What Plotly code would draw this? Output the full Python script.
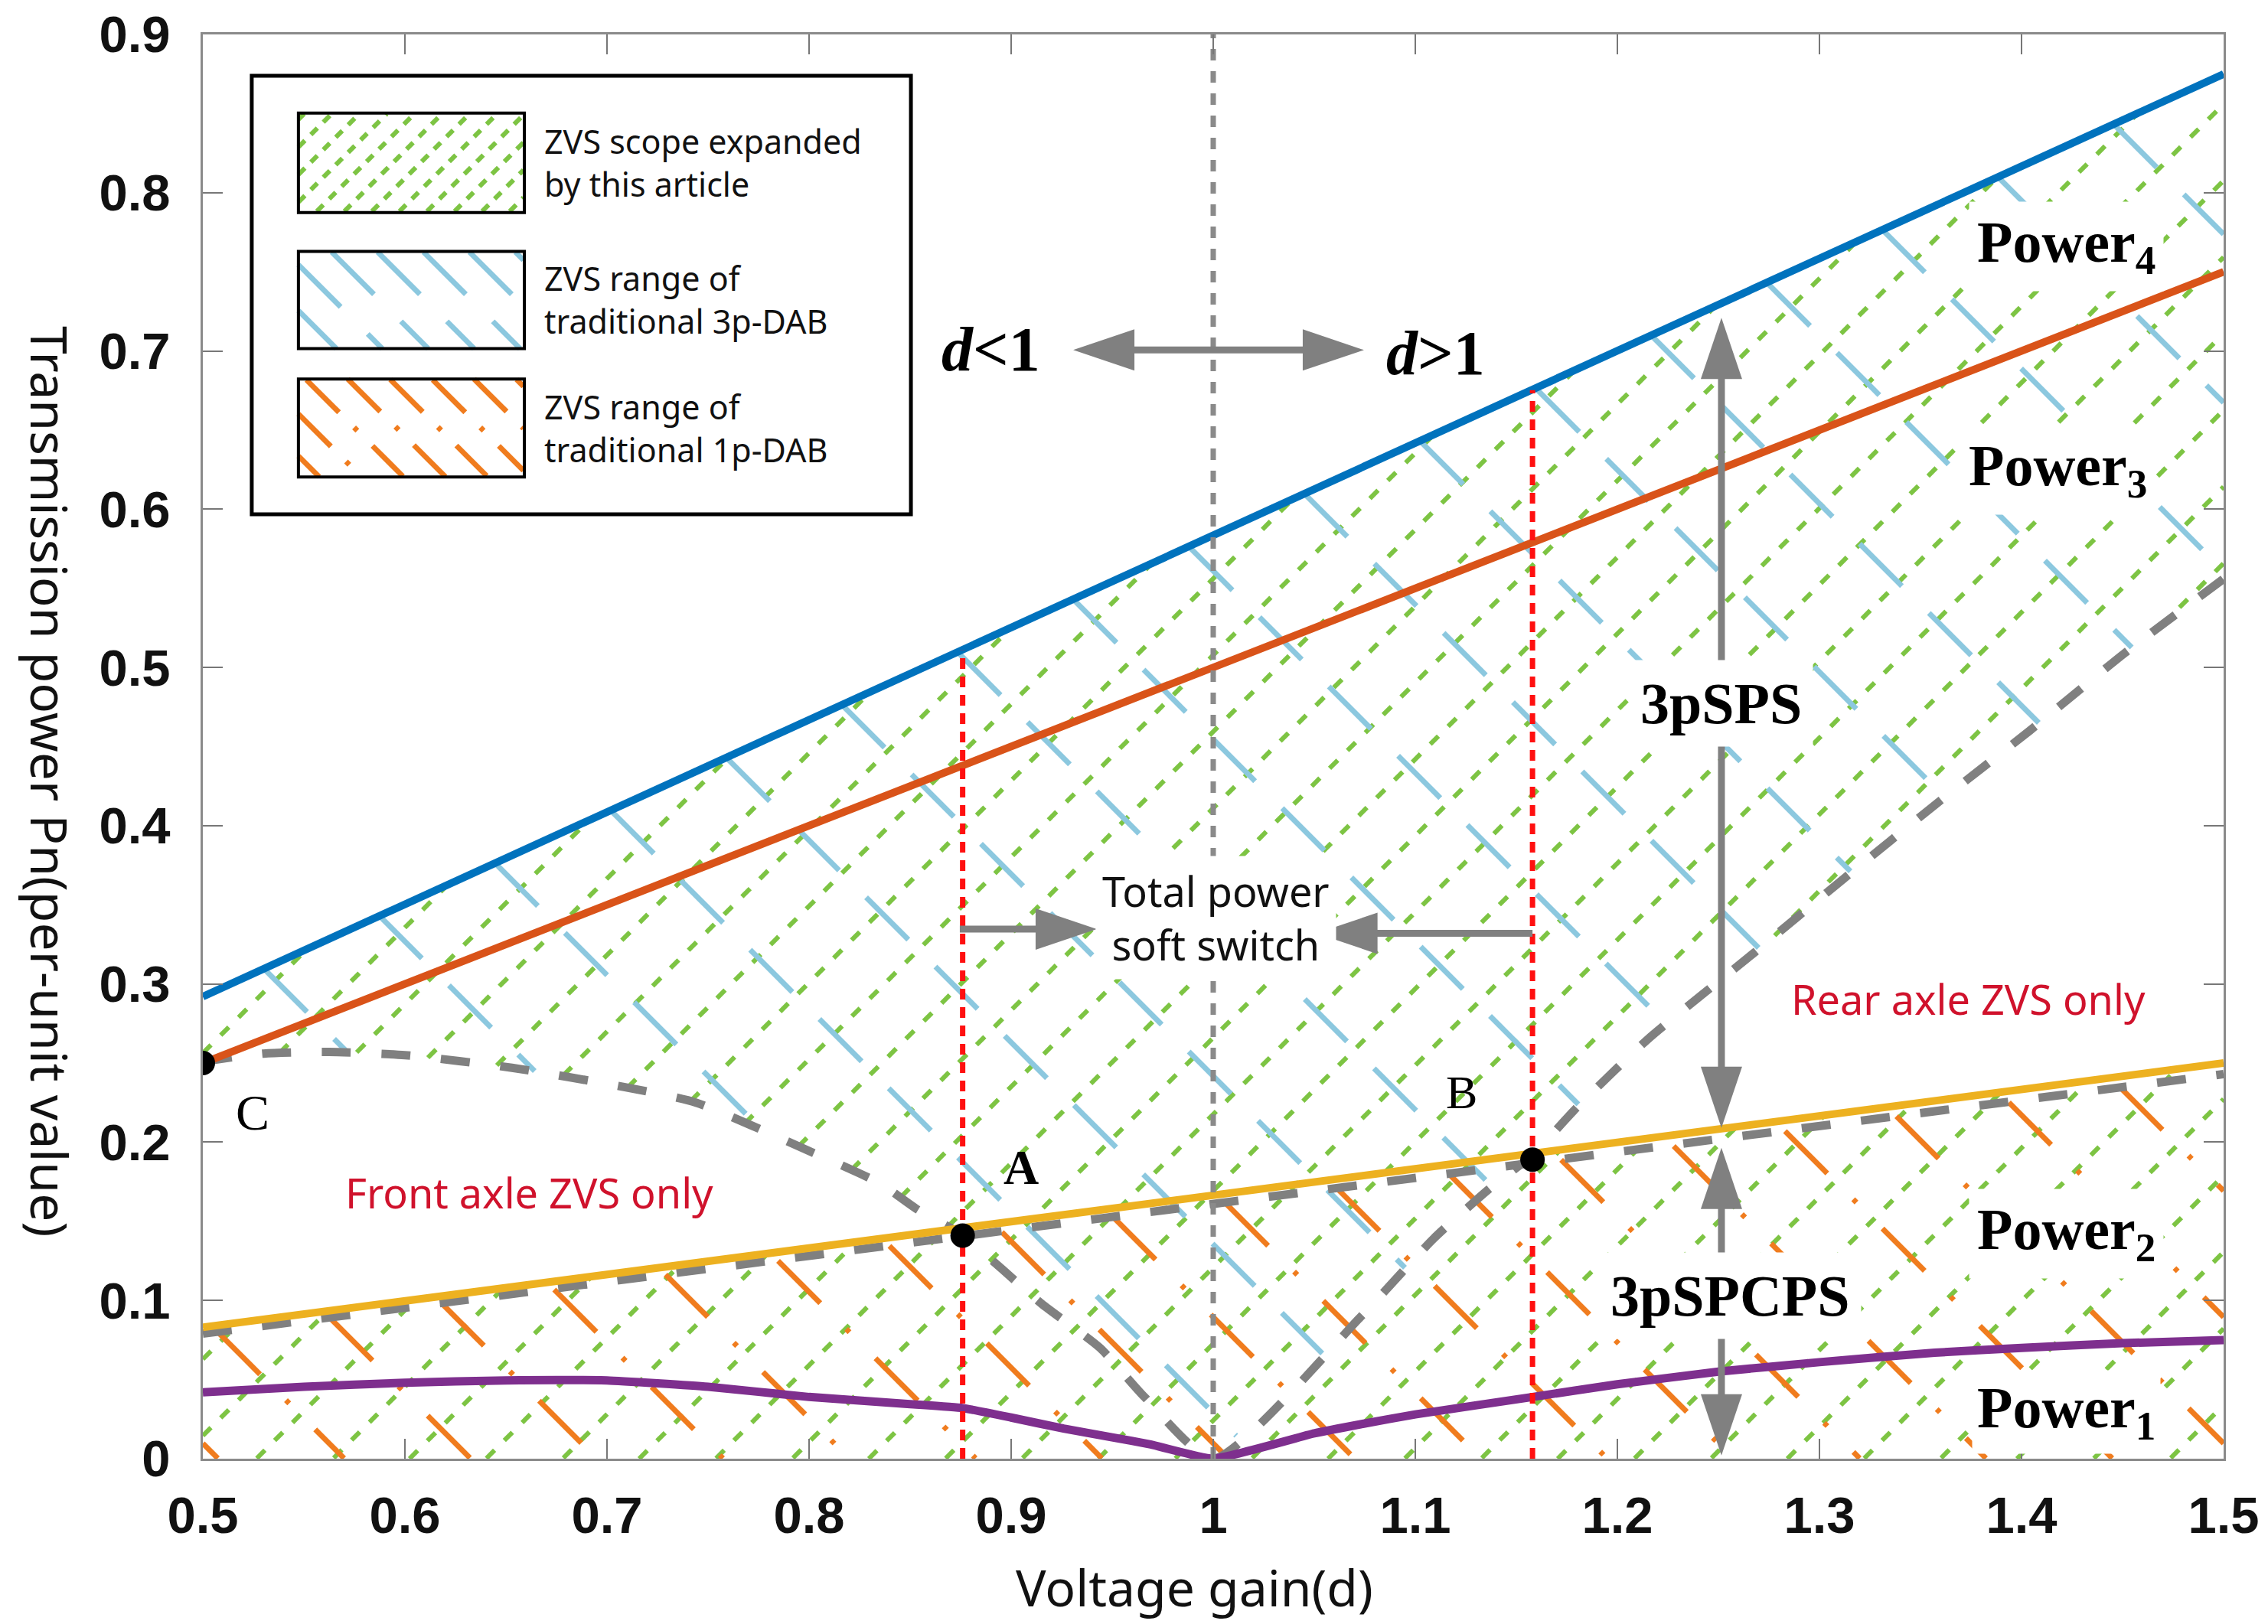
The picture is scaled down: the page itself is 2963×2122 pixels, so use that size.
import numpy as np
import plotly.graph_objects as go

# ---------------- data ----------------
d_line = [0.5, 1.0, 1.5]
power4 = [0.292, 0.583, 0.875]
power3 = [0.25, 0.5, 0.75]
power2 = [0.083, 0.167, 0.25]
power2_limit = [0.079, 0.161, 0.243]          # grey dashed boundary just under Power2

d_power1 = [0.5, 0.55, 0.6, 0.65, 0.7, 0.75, 0.8, 0.85, 0.876, 0.9, 0.926, 0.95, 0.969, 1.0,
            1.05, 1.074, 1.1, 1.158, 1.2, 1.25, 1.3, 1.357, 1.4, 1.45, 1.5]
power1 = [0.042, 0.0455, 0.048, 0.0495, 0.0495, 0.0455, 0.039, 0.0345, 0.032, 0.026, 0.019, 0.0135, 0.009, 0.0,
          0.016, 0.022, 0.028, 0.039, 0.047, 0.055, 0.061, 0.067, 0.070, 0.073, 0.075]

d_zvs = [0.5, 0.53, 0.5625, 0.6, 0.653, 0.708, 0.744, 0.799, 0.835, 0.853, 0.876, 0.915, 0.944, 0.966, 1.0,
         1.0736, 1.109, 1.137, 1.158, 1.18, 1.215, 1.267, 1.312, 1.358, 1.404, 1.451, 1.5]
zvs_limit = [0.251, 0.256, 0.257, 0.255, 0.247, 0.235, 0.225, 0.195, 0.174, 0.158, 0.141, 0.098, 0.07, 0.039, 0.0,
             0.0905, 0.139, 0.171, 0.192, 0.222, 0.265, 0.319, 0.3665, 0.414, 0.46, 0.509, 0.556]

pt_names = ["C", "A", "B"]
pt_d = [0.5, 0.876, 1.158]
pt_p = [0.25, 0.141, 0.189]

boundary_d = [0.876, 1.158]        # red dashed boundaries (A and B)
unity_d = 1.0                       # grey dotted line d = 1

x_ticks = [0.5, 0.6, 0.7, 0.8, 0.9, 1.0, 1.1, 1.2, 1.3, 1.4, 1.5]
x_tick_text = ["0.5", "0.6", "0.7", "0.8", "0.9", "1", "1.1", "1.2", "1.3", "1.4", "1.5"]
y_ticks = [0, 0.1, 0.2, 0.3, 0.4, 0.5, 0.6, 0.7, 0.8, 0.9]
y_tick_text = ["0", "0.1", "0.2", "0.3", "0.4", "0.5", "0.6", "0.7", "0.8", "0.9"]

legend_texts = ["ZVS scope expanded<br>by this article",
                "ZVS range of<br>traditional 3p-DAB",
                "ZVS range of<br>traditional 1p-DAB"]

# ---------------- geometry of the page ----------------
# the page body has an 8px margin, so the figure is shifted by 8px; compensate
W, H = 2955, 2114
ML, MR, MT, MB = 257, 58, 37, 216
PW, PH = W - ML - MR, H - MT - MB
X0, X1, Y0, Y1 = 0.5, 1.5, 0.0, 0.9

GREEN = "#7DC443"
LBLUE = "#8CC8DF"
ORANGE = "#F07C1E"
GREY = "#808080"
SERIF = "Liberation Serif"
SANS = "Noto Sans"


def to_uv(x, y):
    return (np.asarray(x) - X0) / (X1 - X0) * PW, (np.asarray(y) - Y0) / (Y1 - Y0) * PH


def to_xy(u, v):
    return X0 + np.asarray(u) / PW * (X1 - X0), Y0 + np.asarray(v) / PH * (Y1 - Y0)


def px_of(x, y):
    return ML + (x - X0) / (X1 - X0) * PW, MT + (Y1 - y) / (Y1 - Y0) * PH


def data_of(px, py):
    return X0 + (px - ML) / PW * (X1 - X0), Y1 - (py - MT) / PH * (Y1 - Y0)


def hatch(inside, box, direction, spacing, phase=0.0, step=1.5):
    """Clip a family of 45-degree lines (pixel space) to a region."""
    xmin, xmax, ymin, ymax = box
    u0, v0 = to_uv(xmin, ymin)
    u1, v1 = to_uv(xmax, ymax)
    s = 1.0 if direction == "/" else -1.0
    if s > 0:
        cmin, cmax = v0 - u1, v1 - u0
    else:
        cmin, cmax = v0 + u0, v1 + u1
    start = cmin - ((cmin - phase) % spacing)
    xs, ys = [], []
    uu = np.arange(u0, u1 + step, step)
    for c in np.arange(start, cmax + spacing, spacing):
        vv = s * uu + c
        m = (vv >= v0) & (vv <= v1)
        if not m.any():
            continue
        u, v = uu[m], vv[m]
        x, y = to_xy(u, v)
        ins = inside(x, y)
        pad = np.concatenate([[False], ins, [False]]).astype(int)
        dd = np.diff(pad)
        st = np.where(dd == 1)[0]
        en = np.where(dd == -1)[0] - 1
        for a, b in zip(st, en):
            if b - a < 3:
                continue
            xs += [float(x[a]), float(x[b]), None]
            ys += [float(y[a]), float(y[b]), None]
    return xs, ys


def in_blue(x, y):
    return (y >= np.interp(x, d_zvs, zvs_limit)) & (y <= np.interp(x, d_line, power4))


def in_orange(x, y):
    return (y >= 0) & (y <= np.interp(x, d_line, power2_limit))


def in_green(x, y):
    return in_blue(x, y) | ((y >= 0) & (y <= np.interp(x, d_line, power2)))


fig = go.Figure()
plot_box = (X0, X1, Y0, Y1)

hatch_specs = [
    (in_green, "/", 100, GREEN, 6, "15px,18px", 30),
    (in_blue, "\\", 220, LBLUE, 7, "78px,50px", 60),
    (in_orange, "\\", 165, ORANGE, 7, "78px,48px,6px,48px", 20),
]
for fn, direc, sp, col, wd, dash, ph in hatch_specs:
    hx, hy = hatch(fn, plot_box, direc, sp, ph)
    fig.add_trace(go.Scatter(x=hx, y=hy, mode="lines", line=dict(color=col, width=wd, dash=dash),
                             hoverinfo="skip", showlegend=False))

# ---------------- legend (drawn inside the plot) ----------------
LEG_BOX = (0.5242, 0.8504, 0.5968, 0.8739)
SWATCH_X = (0.5473, 0.6591)
SWATCH_Y = [(0.7875, 0.8503), (0.7015, 0.7629), (0.6204, 0.6822)]
LEG_TEXT_X = 0.668

swatch_hatch = [
    ("/", 36, GREEN, 6, "12px,11px"),
    ("\\", 60, LBLUE, 7, "78px,50px"),
    ("\\", 55, ORANGE, 7, "60px,28px,6px,28px"),
]
shapes = [dict(type="rect", xref="x", yref="y", x0=LEG_BOX[0], x1=LEG_BOX[1], y0=LEG_BOX[2], y1=LEG_BOX[3],
               line=dict(color="black", width=5), fillcolor="white", layer="below")]
annotations = []
for (ya, yb), (direc, sp, col, wd, dash), txt in zip(SWATCH_Y, swatch_hatch, legend_texts):
    xa, xb = SWATCH_X

    def in_rect(x, y, xa=xa, xb=xb, ya=ya, yb=yb):
        return (x >= xa) & (x <= xb) & (y >= ya) & (y <= yb)

    hx, hy = hatch(in_rect, (xa, xb, ya, yb), direc, sp, 5)
    fig.add_trace(go.Scatter(x=hx, y=hy, mode="lines", line=dict(color=col, width=wd, dash=dash),
                             hoverinfo="skip", showlegend=False))
    shapes.append(dict(type="rect", xref="x", yref="y", x0=xa, x1=xb, y0=ya, y1=yb,
                       line=dict(color="black", width=4), layer="above"))
    annotations.append(dict(x=LEG_TEXT_X, y=(ya + yb) / 2, xref="x", yref="y", text=txt, showarrow=False,
                            xanchor="left", yanchor="middle", align="left",
                            font=dict(family=SANS, size=43, color="#111")))

# ---------------- curves ----------------
fig.add_trace(go.Scatter(x=d_zvs, y=zvs_limit, mode="lines", line_shape="spline",
                         line=dict(color=GREY, width=11, dash="38px,40px", smoothing=0.6),
                         hoverinfo="skip", showlegend=False))
fig.add_trace(go.Scatter(x=d_line, y=power2_limit, mode="lines",
                         line=dict(color=GREY, width=11, dash="38px,40px"), hoverinfo="skip", showlegend=False))
fig.add_trace(go.Scatter(x=d_power1, y=power1, mode="lines", line_shape="spline",
                         line=dict(color="#7E2F8E", width=11, smoothing=0.4),
                         hoverinfo="skip", showlegend=False))
fig.add_trace(go.Scatter(x=d_line, y=power2, mode="lines", line=dict(color="#EDB120", width=10),
                         hoverinfo="skip", showlegend=False))
fig.add_trace(go.Scatter(x=d_line, y=power3, mode="lines", line=dict(color="#D95319", width=10),
                         hoverinfo="skip", showlegend=False))
fig.add_trace(go.Scatter(x=d_line, y=power4, mode="lines", line=dict(color="#0072BD", width=10),
                         hoverinfo="skip", showlegend=False))

# red dashed boundaries from 0 up to Power4
for bd in boundary_d:
    fig.add_trace(go.Scatter(x=[bd, bd], y=[0, float(np.interp(bd, d_line, power4))], mode="lines",
                             line=dict(color="#FF1010", width=7, dash="14px,10px"),
                             hoverinfo="skip", showlegend=False))
fig.add_trace(go.Scatter(x=[unity_d, unity_d], y=[Y0, Y1], mode="lines",
                         line=dict(color="#8A8A8A", width=7, dash="15px,14px"),
                         hoverinfo="skip", showlegend=False))

fig.add_trace(go.Scatter(x=pt_d, y=pt_p, mode="markers", marker=dict(color="black", size=32),
                         hoverinfo="skip", showlegend=False))


# ---------------- arrows (shapes) ----------------
def add_arrow(tail, head, both=False, head_len=80, head_w=54, width=9, color=GREY):
    tx, ty = px_of(*tail)
    hx, hy = px_of(*head)
    L = np.hypot(hx - tx, hy - ty)
    ux, uy = (hx - tx) / L, (hy - ty) / L
    heads = [(hx, hy, ux, uy)]
    sx, sy = tx, ty
    if both:
        heads.append((tx, ty, -ux, -uy))
        sx, sy = tx + ux * head_len * 0.8, ty + uy * head_len * 0.8
    ex, ey = hx - ux * head_len * 0.8, hy - uy * head_len * 0.8
    a = data_of(sx, sy)
    b = data_of(ex, ey)
    shapes.append(dict(type="line", xref="x", yref="y", x0=a[0], y0=a[1], x1=b[0], y1=b[1],
                       line=dict(color=color, width=width), layer="above"))
    for px, py, dx, dy in heads:
        bx, by = px - dx * head_len, py - dy * head_len
        nx, ny = -dy, dx
        p1 = data_of(px, py)
        p2 = data_of(bx + nx * head_w / 2, by + ny * head_w / 2)
        p3 = data_of(bx - nx * head_w / 2, by - ny * head_w / 2)
        path = f"M {p1[0]},{p1[1]} L {p2[0]},{p2[1]} L {p3[0]},{p3[1]} Z"
        shapes.append(dict(type="path", xref="x", yref="y", path=path, fillcolor=color,
                           line=dict(width=0), layer="above"))


add_arrow((0.9307, 0.7006), (1.0746, 0.7006), both=True)
add_arrow((1.2515, 0.209), (1.2515, 0.721), both=True)
add_arrow((1.2515, 0.002), (1.2515, 0.1965), both=True)
add_arrow((0.8746, 0.3346), (0.9424, 0.3346))
add_arrow((1.158, 0.332), (1.051, 0.332))


# ---------------- text ----------------
def label(x, y, text, size, family=SERIF, color="black", bg=None, pad=6, bold=False):
    d = dict(x=x, y=y, xref="x", yref="y", text=text, showarrow=False, xanchor="center", yanchor="middle",
             font=dict(family=family, size=size, color=color, weight="bold" if bold else "normal"))
    if bg:
        d.update(bgcolor=bg, borderpad=pad)
    annotations.append(d)


label(1.422, 0.766, "Power<sub>4</sub>", 76, bold=True, bg="white", pad=10)
label(1.418, 0.625, "Power<sub>3</sub>", 76, bold=True, bg="white", pad=10)
label(1.422, 0.142, "Power<sub>2</sub>", 76, bold=True, bg="white", pad=10)
label(1.422, 0.0295, "Power<sub>1</sub>", 76, bold=True, bg="white", pad=6)
label(1.2515, 0.4775, "3pSPS", 76, bold=True, bg="white", pad=14)
label(1.2557, 0.1028, "3pSPCPS", 76, bold=True, bg="white", pad=14)
label(0.890, 0.701, "<i>d</i>&lt;1", 82, bold=True)
label(1.110, 0.6985, "<i>d</i>&gt;1", 82, bold=True)
label(1.0015, 0.342, "Total power<br>soft switch", 54, family=SANS, color="#111", bg="white", pad=8)
label(0.6617, 0.1685, "Front axle ZVS only", 54, family=SANS, color="#D0122C")
label(1.3735, 0.2907, "Rear axle ZVS only", 54, family=SANS, color="#D0122C")
label(0.5246, 0.219, "C", 66)
label(0.905, 0.184, "A", 64, bold=True)
label(1.123, 0.2318, "B", 62)

annotations.append(dict(x=(1552 - ML) / PW, y=(H - MB - 2065) / PH, xref="paper", yref="paper",
                        text="Voltage gain(d)", showarrow=False, xanchor="center", yanchor="middle",
                        font=dict(family=SANS, size=66, color="#111")))
annotations.append(dict(x=(58 - ML) / PW, y=(H - MB - 1013) / PH, xref="paper", yref="paper",
                        text="Transmission power Pn(per-unit value)", showarrow=False, textangle=90,
                        xanchor="center", yanchor="middle",
                        font=dict(family=SANS, size=66, color="#111")))

axis_common = dict(showline=True, mirror="ticks", linecolor="#8A8A8A", linewidth=3, ticks="inside",
                   ticklen=26, tickwidth=2, tickcolor="#777", showgrid=False, zeroline=False,
                   automargin=False, ticklabeloverflow="allow",
                   tickfont=dict(family="Liberation Sans", size=67, color="#111", weight="bold"))

fig.update_layout(
    width=W, height=H, margin=dict(l=ML, r=MR, t=MT, b=MB),
    plot_bgcolor="white", paper_bgcolor="white",
    xaxis=dict(range=[X0, X1], tickvals=x_ticks, ticktext=x_tick_text, ticklabelstandoff=14, **axis_common),
    yaxis=dict(range=[Y0, Y1], tickvals=y_ticks, ticktext=y_tick_text, ticklabelstandoff=26, **axis_common),
    shapes=shapes, annotations=annotations, showlegend=False,
)

fig.write_html("out.html", config={"displayModeBar": False})
